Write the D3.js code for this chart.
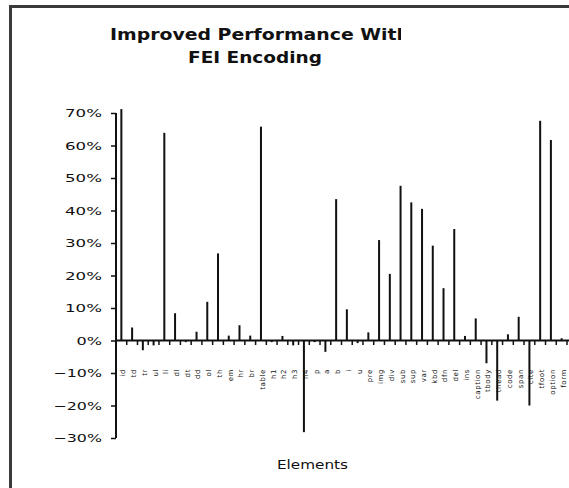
<!DOCTYPE html>
<html>
<head>
<meta charset="utf-8">
<script src="https://cdn.jsdelivr.net/npm/d3@7/dist/d3.min.js"></script>
<style>
  body { margin: 0; background: #fff; overflow: hidden; }
  svg { display: block; overflow: hidden; }
  text { font-family: "DejaVu Sans", Verdana, sans-serif; fill: #111; }
</style>
</head>
<body>
<script>
// element names along the x axis (too small to read in the source, approximated)
var elements = [
    "id", "td", "tr", "ul", "li", "dl", "dt", "dd", "ol", "th",
    "em", "hr", "br", "table", "h1", "h2", "h3", "h4", "p", "a",
    "b", "i", "u", "pre", "img", "div", "sub", "sup", "var", "kbd",
    "dfn", "del", "ins", "caption", "tbody", "thead", "code", "span", "cite", "tfoot",
    "option", "form"];

// improvement per element, as a fraction
var improvement = [
    0.712, 0.040, -0.030, -0.015, 0.639, 0.084, -0.005, 0.027, 0.119, 0.268,
    0.015, 0.047, 0.015, 0.658, -0.005, 0.014, -0.015, -0.282, -0.005, -0.035,
    0.435, 0.096, -0.008, 0.025, 0.309, 0.205, 0.476, 0.425, 0.405, 0.292,
    0.161, 0.343, 0.014, 0.068, -0.070, -0.185, 0.019, 0.073, -0.200, 0.676,
    0.617, 0.007];

var yTicks = [-0.3, -0.2, -0.1, 0, 0.1, 0.2, 0.3, 0.4, 0.5, 0.6, 0.7];

var titleLines = ["Improved Performance With", "FEI Encoding"];
var xTitle = "Elements";

var width = 569;
var height = 488;
var plot = {left: 116, right: 567, top: 113, bottom: 438};

var svg = d3.select("body")
    .append("svg")
    .attr("width", width)
    .attr("height", height);

// chart frame: only its top and left edges fall inside the picture
svg.append("path")
    .attr("d", "M10.5," + height + "V6.5H" + width)
    .attr("fill", "none")
    .attr("stroke", "#3a3a3a")
    .attr("stroke-width", 3);

// title, first line is cut off on the right
svg.append("clipPath")
    .attr("id", "titleClip")
    .append("rect")
        .attr("x", 0).attr("y", 0)
        .attr("width", 401).attr("height", 80);

svg.append("text")
    .attr("clip-path", "url(#titleClip)")
    .attr("x", 110)
    .attr("y", 39.5)
    .attr("textLength", 300)
    .attr("lengthAdjust", "spacingAndGlyphs")
    .style("font-size", "16px")
    .style("font-weight", "bold")
    .text(titleLines[0]);

svg.append("text")
    .attr("x", 188)
    .attr("y", 62.7)
    .attr("textLength", 134)
    .attr("lengthAdjust", "spacingAndGlyphs")
    .style("font-size", "16px")
    .style("font-weight", "bold")
    .text(titleLines[1]);

var xScale = d3.scaleBand()
    .domain(elements)
    .range([plot.left, plot.right])
    .paddingInner(0);

var yScale = d3.scaleLinear()
    .domain([-0.3, 0.7])
    .range([plot.bottom, plot.top]);

var pct = d3.format(".0%");

// y axis
var yAxis = d3.axisLeft(yScale)
    .tickValues(yTicks)
    .tickSize(5)
    .tickPadding(9)
    .tickFormat(pct);

var gy = svg.append("g")
    .attr("transform", "translate(" + plot.left + ",0)")
    .call(yAxis);

gy.select(".domain")
    .attr("stroke", "#111")
    .attr("stroke-width", 2)
    .attr("d", "M0," + yScale(-0.3) + "V" + yScale(0.7));
gy.selectAll(".tick line").attr("stroke", "#111").attr("stroke-width", 1.5);

// the source font is very wide, so stretch each label a little
gy.selectAll(".tick text")
    .style("font-size", "11px")
    .attr("fill", "#111")
    .attr("lengthAdjust", "spacingAndGlyphs")
    .attr("textLength", function(d) {
        var s = pct(d), w = 0;
        for (var k = 0; k < s.length; k++) {
            w += s[k] == "%" ? 14 : (s[k] == "-" ? 7 : 11.5);
        }
        return w;
    });

// bars
svg.append("g")
    .selectAll("rect")
    .data(improvement)
    .join("rect")
        .attr("x", function(d, i) {
            return xScale(elements[i]) + xScale.bandwidth() / 2 - 1;
        })
        .attr("y", function(d) { return yScale(Math.max(0, d)); })
        .attr("width", 2)
        .attr("height", function(d) {
            return Math.abs(yScale(d) - yScale(0));
        })
        .attr("fill", "#111");

// category axis on the zero line
var y0 = yScale(0);
svg.append("line")
    .attr("x1", plot.left)
    .attr("x2", width)
    .attr("y1", y0)
    .attr("y2", y0)
    .attr("stroke", "#111")
    .attr("stroke-width", 2);

svg.append("g")
    .selectAll("line")
    .data(elements)
    .join("line")
        .attr("x1", function(d) { return xScale(d) + xScale.bandwidth(); })
        .attr("x2", function(d) { return xScale(d) + xScale.bandwidth(); })
        .attr("y1", y0)
        .attr("y2", y0 + 4.5)
        .attr("stroke", "#111")
        .attr("stroke-width", 1.5);

// rotated category labels, all hanging from the same top line
svg.append("g")
    .selectAll("text")
    .data(elements)
    .join("text")
        .attr("transform", function(d) {
            var x = xScale(d) + xScale.bandwidth() / 2 + 1.5;
            return "translate(" + x + ",369) rotate(-90)";
        })
        .attr("text-anchor", "end")
        .attr("dy", "0.35em")
        .style("font-size", "7px")
        .style("letter-spacing", "0.6px")
        .text(function(d) { return d; });

svg.append("text")
    .attr("x", 277)
    .attr("y", 469)
    .attr("textLength", 71)
    .attr("lengthAdjust", "spacingAndGlyphs")
    .style("font-size", "12.5px")
    .text(xTitle);
</script>
</body>
</html>
